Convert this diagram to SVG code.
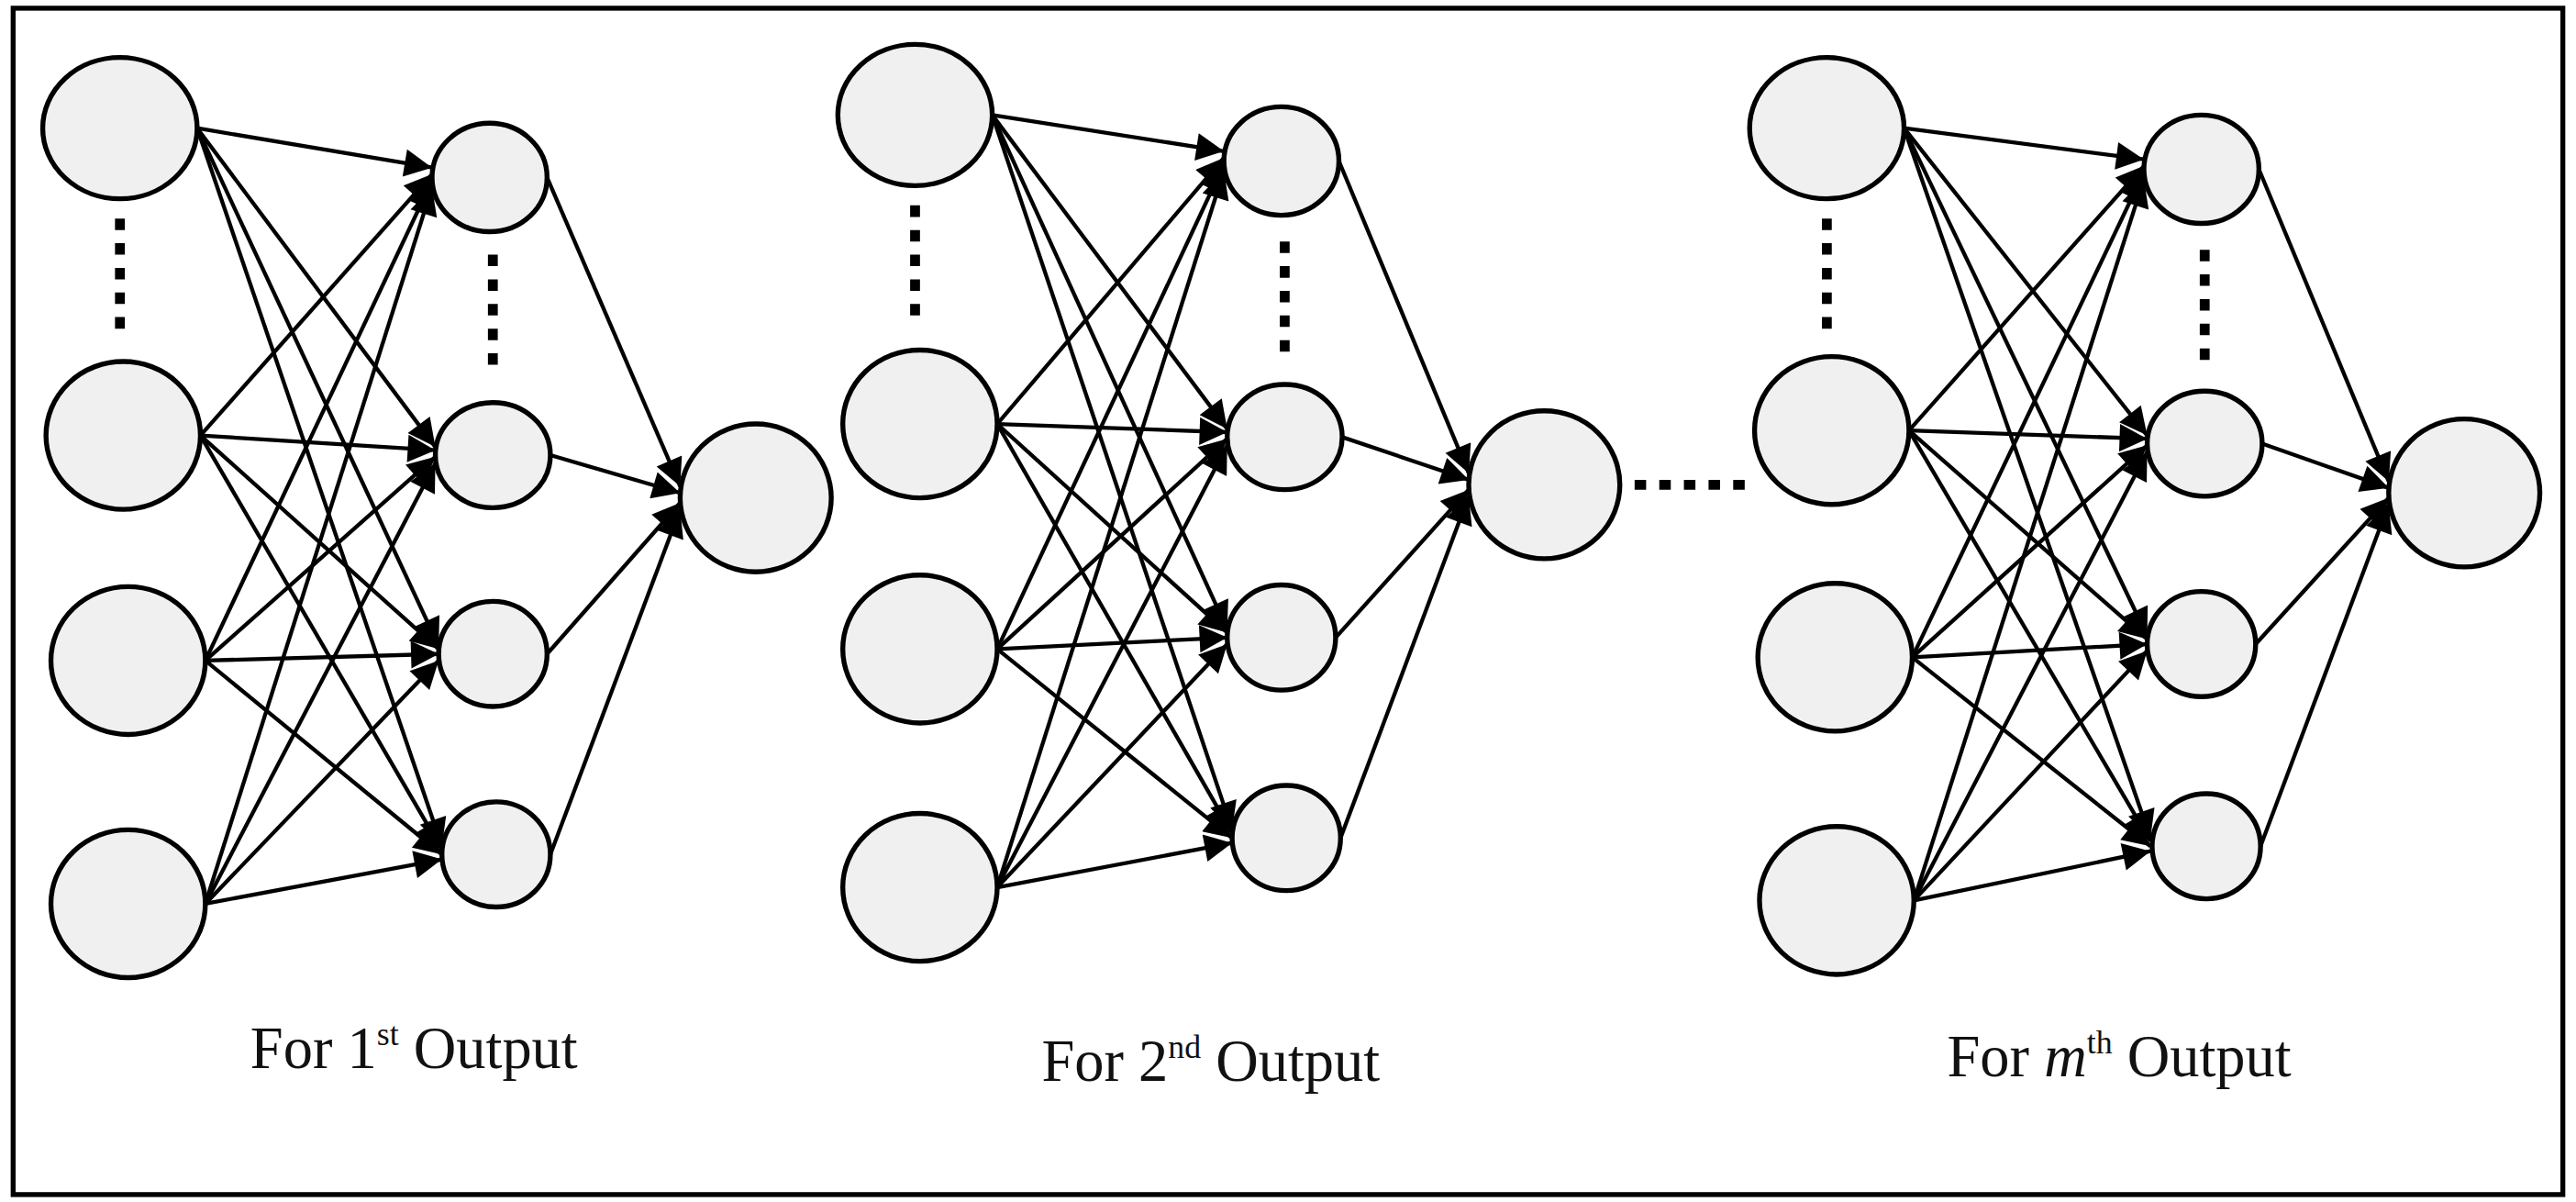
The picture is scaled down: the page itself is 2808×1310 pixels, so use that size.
<svg xmlns="http://www.w3.org/2000/svg" width="2808" height="1310" viewBox="0 0 2808 1310">
<defs>
<style>
.n{fill:#f0f0f0;stroke:#000;stroke-width:3}
.e line{stroke:#000;stroke-width:2.4;marker-end:url(#ah)}
.d{stroke:#000;stroke-width:6;stroke-dasharray:7,8}
.t{font-family:"Liberation Serif",serif;font-size:36px;fill:#111}
</style>
<marker id="ah" viewBox="0 0 10 10" refX="10" refY="5" markerWidth="9" markerHeight="7" orient="auto"><path d="M0,0L10,5L0,10z" fill="#000"/></marker>
</defs>
<rect width="2808" height="1310" fill="#fff"/>
<g transform="scale(1.7908)">
<rect x="8" y="5" width="1552" height="722" fill="none" stroke="#000" stroke-width="3"/>
<g id="connectors" class="e">
<line x1="120" y1="78" x2="263" y2="102"/><line x1="120" y1="78" x2="265" y2="272"/><line x1="120" y1="78" x2="267" y2="393"/><line x1="120" y1="78" x2="269" y2="515"/>
<line x1="122" y1="265" x2="263" y2="106"/><line x1="122" y1="265" x2="265" y2="274"/><line x1="122" y1="265" x2="267" y2="395"/><line x1="122" y1="265" x2="269" y2="517"/>
<line x1="125" y1="402" x2="263" y2="110"/><line x1="125" y1="402" x2="265" y2="278"/><line x1="125" y1="402" x2="267" y2="398"/><line x1="125" y1="402" x2="269" y2="520"/>
<line x1="125" y1="550" x2="263" y2="114"/><line x1="125" y1="550" x2="265" y2="282"/><line x1="125" y1="550" x2="267" y2="402"/><line x1="125" y1="550" x2="269" y2="523"/>
<line x1="333" y1="108" x2="414" y2="296"/><line x1="335" y1="277" x2="414" y2="300"/><line x1="333" y1="398" x2="414" y2="306"/><line x1="335" y1="520" x2="414" y2="310"/>
<line x1="604" y1="70" x2="745" y2="92"/><line x1="604" y1="70" x2="747" y2="261"/><line x1="604" y1="70" x2="747" y2="383"/><line x1="604" y1="70" x2="750" y2="505"/>
<line x1="607" y1="258" x2="745" y2="96"/><line x1="607" y1="258" x2="747" y2="263"/><line x1="607" y1="258" x2="747" y2="385"/><line x1="607" y1="258" x2="750" y2="507"/>
<line x1="607" y1="395" x2="745" y2="100"/><line x1="607" y1="395" x2="747" y2="267"/><line x1="607" y1="395" x2="747" y2="388"/><line x1="607" y1="395" x2="750" y2="510"/>
<line x1="607" y1="540" x2="745" y2="104"/><line x1="607" y1="540" x2="747" y2="271"/><line x1="607" y1="540" x2="747" y2="392"/><line x1="607" y1="540" x2="750" y2="513"/>
<line x1="815" y1="98" x2="894" y2="288"/><line x1="817" y1="266" x2="894" y2="292"/><line x1="813" y1="388" x2="894" y2="298"/><line x1="816" y1="510" x2="894" y2="302"/>
<line x1="1159" y1="78" x2="1305" y2="97"/><line x1="1159" y1="78" x2="1307" y2="265"/><line x1="1159" y1="78" x2="1307" y2="387"/><line x1="1159" y1="78" x2="1309" y2="510"/>
<line x1="1162" y1="262" x2="1305" y2="101"/><line x1="1162" y1="262" x2="1307" y2="267"/><line x1="1162" y1="262" x2="1307" y2="389"/><line x1="1162" y1="262" x2="1309" y2="512"/>
<line x1="1164" y1="400" x2="1305" y2="105"/><line x1="1164" y1="400" x2="1307" y2="271"/><line x1="1164" y1="400" x2="1307" y2="392"/><line x1="1164" y1="400" x2="1309" y2="515"/>
<line x1="1165" y1="548" x2="1305" y2="109"/><line x1="1165" y1="548" x2="1307" y2="275"/><line x1="1165" y1="548" x2="1307" y2="396"/><line x1="1165" y1="548" x2="1309" y2="518"/>
<line x1="1375" y1="103" x2="1454" y2="293"/><line x1="1377" y1="270" x2="1454" y2="297"/><line x1="1373" y1="392" x2="1454" y2="303"/><line x1="1376" y1="515" x2="1454" y2="307"/>
</g>
<g id="net1">
<ellipse class="n" cx="73" cy="78" rx="47" ry="43"/><ellipse class="n" cx="75" cy="265" rx="47" ry="45"/><ellipse class="n" cx="78" cy="402" rx="47" ry="45"/><ellipse class="n" cx="78" cy="550" rx="47" ry="45"/>
<ellipse class="n" cx="298" cy="108" rx="35" ry="33"/><ellipse class="n" cx="300" cy="277" rx="35" ry="32"/><ellipse class="n" cx="300" cy="398" rx="33" ry="32"/><ellipse class="n" cx="302" cy="520" rx="33" ry="32"/>
<ellipse class="n" cx="460" cy="303" rx="46" ry="45"/>
<line class="d" x1="73" y1="133" x2="73" y2="205"/><line class="d" x1="300" y1="155" x2="300" y2="225"/>
<text class="t" x="252" y="650" text-anchor="middle">For 1<tspan font-size="20" dy="-14">st</tspan><tspan dy="14"> Output</tspan></text>
</g>
<g id="net2">
<ellipse class="n" cx="557" cy="70" rx="47" ry="43"/><ellipse class="n" cx="560" cy="258" rx="47" ry="45"/><ellipse class="n" cx="560" cy="395" rx="47" ry="45"/><ellipse class="n" cx="560" cy="540" rx="47" ry="45"/>
<ellipse class="n" cx="780" cy="98" rx="35" ry="33"/><ellipse class="n" cx="782" cy="266" rx="35" ry="32"/><ellipse class="n" cx="780" cy="388" rx="33" ry="32"/><ellipse class="n" cx="783" cy="510" rx="33" ry="32"/>
<ellipse class="n" cx="940" cy="295" rx="46" ry="45"/>
<line class="d" x1="557" y1="125" x2="557" y2="197"/><line class="d" x1="782" y1="147" x2="782" y2="217"/>
<text class="t" x="737" y="658" text-anchor="middle">For 2<tspan font-size="20" dy="-14">nd</tspan><tspan dy="14"> Output</tspan></text>
</g>
<line id="between" class="d" x1="995" y1="295" x2="1068" y2="295"/>
<g id="net3">
<ellipse class="n" cx="1112" cy="78" rx="47" ry="43"/><ellipse class="n" cx="1115" cy="262" rx="47" ry="45"/><ellipse class="n" cx="1117" cy="400" rx="47" ry="45"/><ellipse class="n" cx="1118" cy="548" rx="47" ry="45"/>
<ellipse class="n" cx="1340" cy="103" rx="35" ry="33"/><ellipse class="n" cx="1342" cy="270" rx="35" ry="32"/><ellipse class="n" cx="1340" cy="392" rx="33" ry="32"/><ellipse class="n" cx="1343" cy="515" rx="33" ry="32"/>
<ellipse class="n" cx="1500" cy="300" rx="46" ry="45"/>
<line class="d" x1="1112" y1="133" x2="1112" y2="205"/><line class="d" x1="1342" y1="152" x2="1342" y2="222"/>
<text class="t" x="1290" y="655" text-anchor="middle">For <tspan font-style="italic">m</tspan><tspan font-size="20" dy="-14">th</tspan><tspan dy="14"> Output</tspan></text>
</g>
</g>
</svg>
